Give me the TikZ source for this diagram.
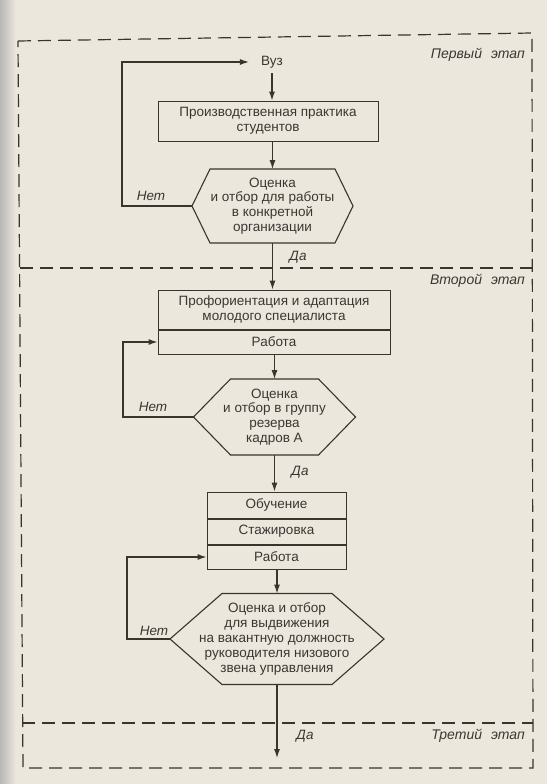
\documentclass[tikz,border=0pt]{standalone}
\usepackage{fontspec}
\setmainfont{Liberation Sans}
\usetikzlibrary{arrows.meta,calc}
\definecolor{paper}{RGB}{236,231,221}
\definecolor{ink}{RGB}{58,52,46}
\definecolor{txtc}{RGB}{58,54,50}
\tikzset{
  ln/.style={draw=ink, line width=1.1pt},
  arr/.style={ln, -{Latex[length=9pt,width=6pt]}},
  frm/.style={draw=ink, line width=1.2pt, dash pattern=on 13pt off 7pt},
  lbl/.style={text=txtc, font=\fontsize{13.5pt}{14.8pt}\selectfont, align=center, inner sep=0pt},
  ital/.style={text=txtc, font=\fontsize{13.5pt}{15pt}\selectfont\itshape, inner sep=0pt},
  stage/.style={text=txtc, font=\fontsize{14pt}{15pt}\selectfont\itshape, inner sep=0pt, anchor=east},
  box/.style={lbl, draw=ink, line width=1pt},
}
\newcommand\hexpath[4]{%
  \draw[ln] ($(#1)+(-#2,-#3)$) -- ($(#1)+(#2,-#3)$)
    -- ($(#1)+(#2+#4,0)$) coordinate (#1-e)
    -- ($(#1)+(#2,#3)$) -- ($(#1)+(-#2,#3)$)
    -- ($(#1)+(-#2-#4,0)$) coordinate (#1-w) -- cycle;
  \coordinate (#1-n) at ($(#1)+(0,-#3)$);
  \coordinate (#1-s) at ($(#1)+(0,#3)$);}
\begin{document}
\begin{tikzpicture}[x=1pt,y=-1pt]
\useasboundingbox (0,0) rectangle (547,784);
\fill[paper] (0,0) rectangle (547,784);
\shade[left color=black!28, right color=paper] (0,0) rectangle (16,784);

% frame and stage dividers
\draw[frm] (18,41) -- (532,33) -- (533,768) -- (23,768) -- cycle;
\draw[frm] (20,268) -- (532,268);
\draw[frm] (22,723) -- (533,723);
\node[stage] (st1) at (525,55) {Первый\hspace{9pt}этап};
\node[stage] (st2) at (525,281) {Второй\hspace{9pt}этап};
\node[stage] (st3) at (525,736) {Третий\hspace{9pt}этап};

% nodes
\node[lbl] (vuz) at (272,62) {Вуз};
\node[box, minimum width=220pt, minimum height=40pt] (b1) at (268,121) {Производственная практика\\студентов};
\node[lbl] (h1) at (272.5,206) {Оценка\\и отбор для работы\\в конкретной\\организации};
\hexpath{h1}{62.5}{37}{18}

\node[box, minimum width=232pt, minimum height=39pt] (b2) at (274,309.5) {Профориентация и адаптация\\молодого специалиста};
\node[box, minimum width=232pt, minimum height=24pt, anchor=north] (b2w) at (b2.south) {Работа};
\node[lbl] (h2) at (274.5,417) {Оценка\\и отбор в группу\\резерва\\кадров А};
\hexpath{h2}{44}{38}{37}

\node[box, minimum width=139pt, minimum height=26pt] (b3a) at (276.5,505) {Обучение};
\node[box, minimum width=139pt, minimum height=25pt, anchor=north] (b3b) at (b3a.south) {Стажировка};
\node[box, minimum width=139pt, minimum height=24pt, anchor=north] (b3c) at (b3b.south) {Работа};
\node[lbl] (h3) at (277,639) {Оценка и отбор\\для выдвижения\\на вакантную должность\\руководителя низового\\звена управления};
\hexpath{h3}{55}{45.5}{52}

\coordinate (fin) at (279,758);
\coordinate (lp1) at (122,0);
\coordinate (lp2) at (123,0);
\coordinate (lp3) at (127,0);

% main flow
\draw[arr] ([yshift=-5pt]vuz.south) -- (vuz.south |- b1.north);
\draw[arr] (h1-n |- b1.south) -- (h1-n);
\draw[arr] (h1-s) -- (h1-s |- b2.north);
\draw[arr] (h2-n |- b2w.south) -- (h2-n);
\draw[arr] (h2-s) -- (h2-s |- b3a.north);
\draw[arr] (h3-n |- b3c.south) -- (h3-n);
\draw[arr] (h3-s) -- (h3-s |- fin);

% loops
\draw[arr, shorten >=12pt] (h1-w) -- (h1-w -| lp1) |- (vuz.west);
\draw[arr] (h2-w) -- (h2-w -| lp2) |- (b2w.west);
\draw[arr] (h3-w) -- (h3-w -| lp3) |- (b3c.west);

% answer labels
\node[ital] (n1) at (151,196) {Нет};
\node[ital] (n2) at (153,407) {Нет};
\node[ital] (n3) at (154,631) {Нет};
\node[ital] (d1) at (298,257) {Да};
\node[ital] (d2) at (300,472) {Да};
\node[ital] (d3) at (305,736) {Да};
\end{tikzpicture}
\end{document}
